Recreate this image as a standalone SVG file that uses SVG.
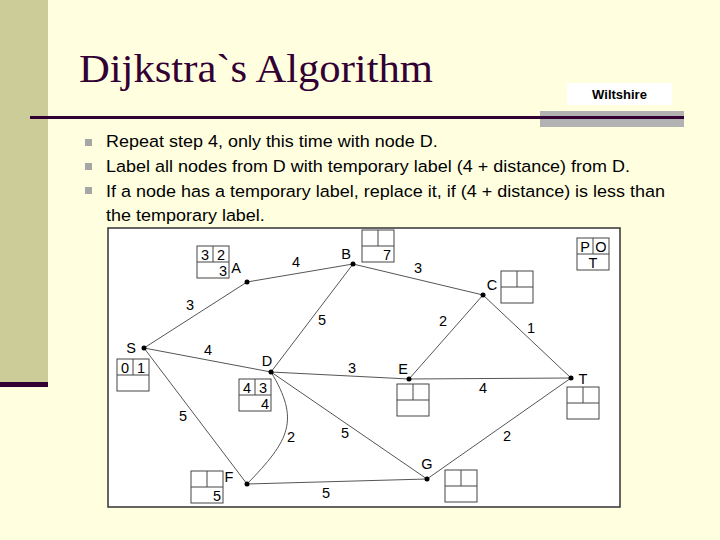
<svg xmlns="http://www.w3.org/2000/svg" width="720" height="540" viewBox="0 0 720 540">
<style>
.title{font-family:"Liberation Serif",serif;font-size:41px;fill:#330033}
.bul{font-family:"Liberation Sans",Arial,sans-serif;font-size:16.5px;fill:#000}
.lbl{font-family:"Liberation Sans",Arial,sans-serif;font-size:14.5px;fill:#000}
.edge{stroke:#555;stroke-width:1;fill:none}
.box{fill:#fff;stroke:#444;stroke-width:1}
.div{stroke:#444;stroke-width:1}
.dot{fill:#000}
</style>
<defs>
<g id="cell">
<rect class="box" x="0" y="0" width="32" height="32"/>
<line class="div" x1="0" y1="16" x2="32" y2="16"/>
<line class="div" x1="16" y1="0" x2="16" y2="16"/>
</g>
</defs>
<rect x="0" y="0" width="720" height="540" fill="#FFFFE0"/>
<rect x="0" y="0" width="48" height="382" fill="#CCCC99"/>
<rect x="0" y="382" width="48" height="5" fill="#330033"/>
<text class="title" x="79" y="82" transform="translate(79,0) scale(1.04,1) translate(-79,0)">Dijkstra`s Algorithm</text>
<rect x="567" y="83" width="105" height="22" fill="#fff"/>
<text x="619.5" y="99" text-anchor="middle" font-family="Liberation Sans,Arial,sans-serif" font-size="13" font-weight="bold" fill="#000">Wiltshire</text>
<rect x="540" y="111" width="144" height="16" fill="#B2B2B2"/>
<rect x="30" y="116" width="654" height="3" fill="#330033"/>
<g id="bullets">
<rect x="85" y="139" width="7" height="7" fill="#A6A6A6"/>
<rect x="85" y="163" width="7" height="7" fill="#A6A6A6"/>
<rect x="85" y="187" width="7" height="7" fill="#A6A6A6"/>
<g transform="translate(106,0) scale(1.09,1) translate(-106,0)">
<text class="bul" x="106" y="147">Repeat step 4, only this time with node D.</text>
<text class="bul" x="106" y="172">Label all nodes from D with temporary label (4 + distance) from D.</text>
<text class="bul" x="106" y="197">If a node has a temporary label, replace it, if (4 + distance) is less than</text>
<text class="bul" x="106" y="221">the temporary label.</text>
</g>
</g>
<rect x="108" y="228" width="512" height="279" fill="#fff" stroke="#333" stroke-width="1.5"/>
<g id="connectors">
<line class="edge" x1="144" y1="348" x2="247" y2="282"/>
<line class="edge" x1="247" y1="282" x2="353" y2="264"/>
<line class="edge" x1="353" y1="264" x2="271" y2="372"/>
<line class="edge" x1="353" y1="264" x2="483" y2="295"/>
<line class="edge" x1="144" y1="348" x2="271" y2="372"/>
<line class="edge" x1="271" y1="372" x2="409" y2="379"/>
<line class="edge" x1="483" y1="295" x2="409" y2="379"/>
<line class="edge" x1="483" y1="295" x2="571" y2="378"/>
<line class="edge" x1="409" y1="379" x2="571" y2="378"/>
<line class="edge" x1="144" y1="348" x2="247" y2="484"/>
<path class="edge" d="M271,372 C300,420 290,440 247,484"/>
<line class="edge" x1="271" y1="372" x2="427" y2="479"/>
<line class="edge" x1="247" y1="484" x2="427" y2="479"/>
<line class="edge" x1="427" y1="479" x2="571" y2="378"/>
<text class="lbl" x="190" y="310" text-anchor="middle">3</text>
<text class="lbl" x="296" y="267" text-anchor="middle">4</text>
<text class="lbl" x="322" y="325" text-anchor="middle">5</text>
<text class="lbl" x="418" y="273" text-anchor="middle">3</text>
<text class="lbl" x="208" y="355" text-anchor="middle">4</text>
<text class="lbl" x="352" y="373" text-anchor="middle">3</text>
<text class="lbl" x="443" y="326" text-anchor="middle">2</text>
<text class="lbl" x="531" y="333" text-anchor="middle">1</text>
<text class="lbl" x="483" y="393" text-anchor="middle">4</text>
<text class="lbl" x="183" y="421" text-anchor="middle">5</text>
<text class="lbl" x="291" y="442" text-anchor="middle">2</text>
<text class="lbl" x="345" y="438" text-anchor="middle">5</text>
<text class="lbl" x="326" y="498" text-anchor="middle">5</text>
<text class="lbl" x="507" y="441" text-anchor="middle">2</text>
</g>
<g id="node-S">
<circle class="dot" cx="144" cy="348" r="2.5"/>
<text class="lbl" x="131" y="353" text-anchor="middle">S</text>
<use href="#cell" x="117" y="359"/>
<text class="lbl" x="125" y="373" text-anchor="middle">0</text>
<text class="lbl" x="141" y="373" text-anchor="middle">1</text>
</g>
<g id="node-A">
<circle class="dot" cx="247" cy="282" r="2.5"/>
<text class="lbl" x="236" y="273" text-anchor="middle">A</text>
<use href="#cell" x="197" y="246"/>
<text class="lbl" x="205" y="260" text-anchor="middle">3</text>
<text class="lbl" x="221" y="260" text-anchor="middle">2</text>
<text class="lbl" x="227" y="276" text-anchor="end">3</text>
</g>
<g id="node-B">
<circle class="dot" cx="353" cy="264" r="2.5"/>
<text class="lbl" x="346" y="259" text-anchor="middle">B</text>
<use href="#cell" x="362" y="230"/>
<text class="lbl" x="391" y="260" text-anchor="end">7</text>
</g>
<g id="node-C">
<circle class="dot" cx="483" cy="295" r="2.5"/>
<text class="lbl" x="492" y="290" text-anchor="middle">C</text>
<use href="#cell" x="501" y="271"/>
</g>
<g id="legend">
<use href="#cell" x="577" y="238"/>
<text class="lbl" x="585" y="252" text-anchor="middle">P</text>
<text class="lbl" x="601" y="252" text-anchor="middle">O</text>
<text class="lbl" x="593" y="268" text-anchor="middle">T</text>
</g>
<g id="node-D">
<circle class="dot" cx="271" cy="372" r="2.5"/>
<text class="lbl" x="267" y="366" text-anchor="middle">D</text>
<use href="#cell" x="239" y="379"/>
<text class="lbl" x="247" y="393" text-anchor="middle">4</text>
<text class="lbl" x="263" y="393" text-anchor="middle">3</text>
<text class="lbl" x="269" y="409" text-anchor="end">4</text>
</g>
<g id="node-E">
<circle class="dot" cx="409" cy="379" r="2.5"/>
<text class="lbl" x="403" y="374" text-anchor="middle">E</text>
<use href="#cell" x="397" y="384"/>
</g>
<g id="node-T">
<circle class="dot" cx="571" cy="378" r="2.5"/>
<text class="lbl" x="583" y="384" text-anchor="middle">T</text>
<use href="#cell" x="567" y="387"/>
</g>
<g id="node-F">
<circle class="dot" cx="247" cy="484" r="2.5"/>
<text class="lbl" x="229" y="482" text-anchor="middle">F</text>
<use href="#cell" x="191" y="471"/>
<text class="lbl" x="221" y="501" text-anchor="end">5</text>
</g>
<g id="node-G">
<circle class="dot" cx="427" cy="479" r="2.5"/>
<text class="lbl" x="427" y="469" text-anchor="middle">G</text>
<use href="#cell" x="445" y="470"/>
</g>
</svg>
